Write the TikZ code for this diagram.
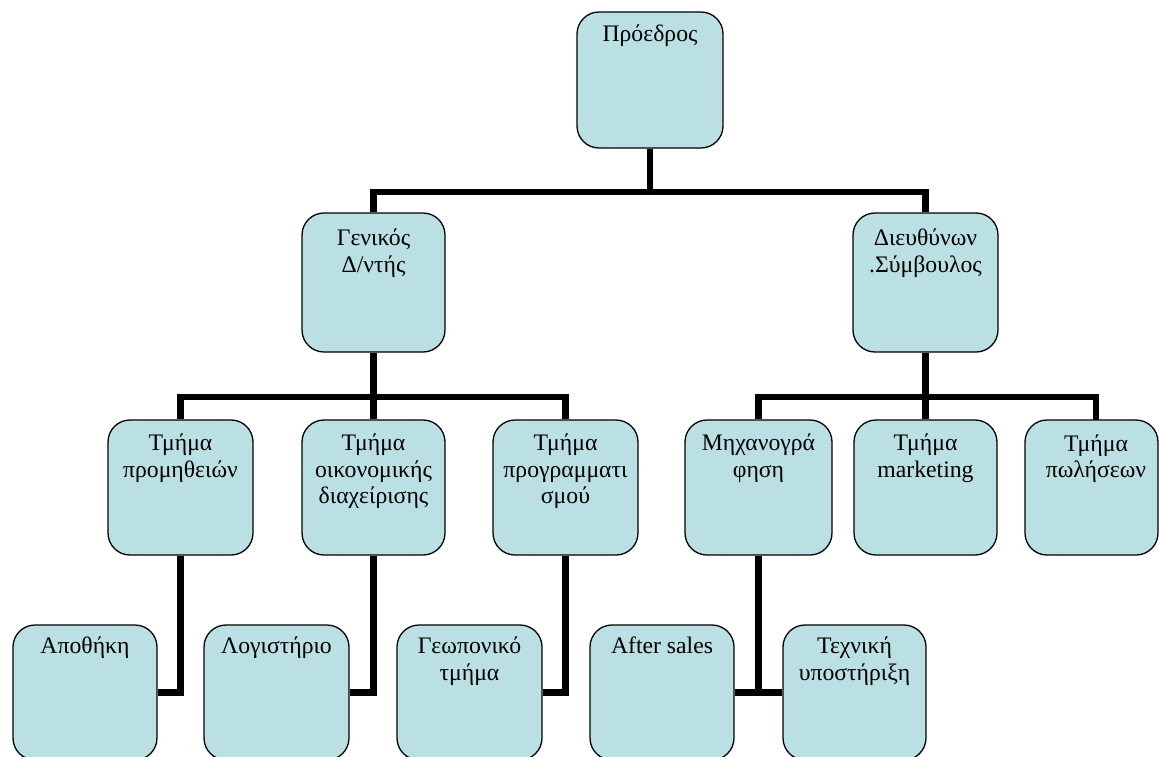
\documentclass[tikz,border=0pt]{standalone}
\usepackage{fontspec}
\setmainfont{Liberation Serif}
\definecolor{boxfill}{HTML}{BBE0E3}
\begin{document}
\begin{tikzpicture}[x=1pt,y=-1pt,
  box/.style={draw=black, line width=1.3pt, fill=boxfill, rounded corners=22pt,
    minimum width=#1, minimum height=135pt, inner sep=0pt},
  box/.default=145pt,
  lbl/.style={anchor=north, yshift=-#1, align=center, inner sep=0pt,
    font=\fontsize{23.7}{26.7}\selectfont},
  conn/.style={line width=6.5pt, draw=black}]
\useasboundingbox (0,0) rectangle (1159,756);
\clip (0,0) rectangle (1159,756);

% connector junctions
\coordinate (bus1) at (650,192);
\coordinate (bus2a) at (373.5,397);
\coordinate (bus2b) at (925.5,397);

% boxes
\node[box=146pt, minimum height=136pt] (pres) at (650,80) {};
\node[box=143pt, minimum height=139pt] (gen) at (373.5,282.5) {};
\node[box=145pt, minimum height=139pt] (ceo) at (925.5,282.5) {};

\node[box] (supply) at (180.5,487.5) {};
\node[box=143pt] (finance) at (373.5,487.5) {};
\node[box] (planning) at (565.5,487.5) {};
\node[box=147pt] (it) at (758.5,487.5) {};
\node[box=143pt] (mkt) at (925.5,487.5) {};
\node[box=133pt] (sales) at (1091.5,487.5) {};
\coordinate (salesjoin) at (1096,420);

\node[box=144pt] (store) at (85,692.5) {};
\node[box] (acct) at (276.5,692.5) {};
\node[box] (agro) at (469.5,692.5) {};
\node[box=144pt] (after) at (662,692.5) {};
\node[box=143pt] (tech) at (854.5,692.5) {};

% connectors
\draw[conn] (pres.south) -- (bus1);
\draw[conn] (gen.north) |- (bus1) -| (ceo.north);

\draw[conn] (gen.south) -- (bus2a);
\draw[conn] (supply.north) |- (bus2a) -| (planning.north);
\draw[conn] (finance.north) -- (bus2a);

\draw[conn] (ceo.south) -- (bus2b);
\draw[conn] (it.north) |- (bus2b) -| (salesjoin);
\draw[conn] (mkt.north) -- (bus2b);

\draw[conn] (supply.south) |- (store.east);
\draw[conn] (finance.south) |- (acct.east);
\draw[conn] (planning.south) |- (agro.east);
\draw[conn] (it.south) |- (after.east);
\draw[conn] (it.south) |- (tech.west);

% texts
\node[lbl=11.3pt] (pres-t) at (pres.north) {\strut Πρόεδρος};
\node[lbl=14.3pt] (gen-t) at (gen.north) {\strut Γενικός\\Δ/ντής};
\node[lbl=14.3pt] (ceo-t) at (ceo.north) {\strut Διευθύνων\\.Σύμβουλος};

\node[lbl=12.3pt] (supply-t) at (supply.north) {\strut Τμήμα\\προμηθειών};
\node[lbl=12.3pt] (finance-t) at (finance.north) {\strut Τμήμα\\οικονομικής\\διαχείρισης};
\node[lbl=12.3pt] (planning-t) at (planning.north) {\strut Τμήμα\\προγραμματι\\σμού};
\node[lbl=12.3pt] (it-t) at (it.north) {\strut Μηχανογρά\\φηση};
\node[lbl=12.3pt] (mkt-t) at (mkt.north) {\strut Τμήμα\\marketing};
\node[lbl=12.3pt] (sales-t) at (salesjoin) {\strut Τμήμα\\πωλήσεων};

\node[lbl=10.3pt] (store-t) at (store.north) {\strut Αποθήκη};
\node[lbl=10.3pt] (acct-t) at (acct.north) {\strut Λογιστήριο};
\node[lbl=10.3pt] (agro-t) at (agro.north) {\strut Γεωπονικό\\τμήμα};
\node[lbl=10.3pt] (after-t) at (after.north) {\strut After sales};
\node[lbl=10.3pt] (tech-t) at (tech.north) {\strut Τεχνική\\υποστήριξη};
\end{tikzpicture}
\end{document}
